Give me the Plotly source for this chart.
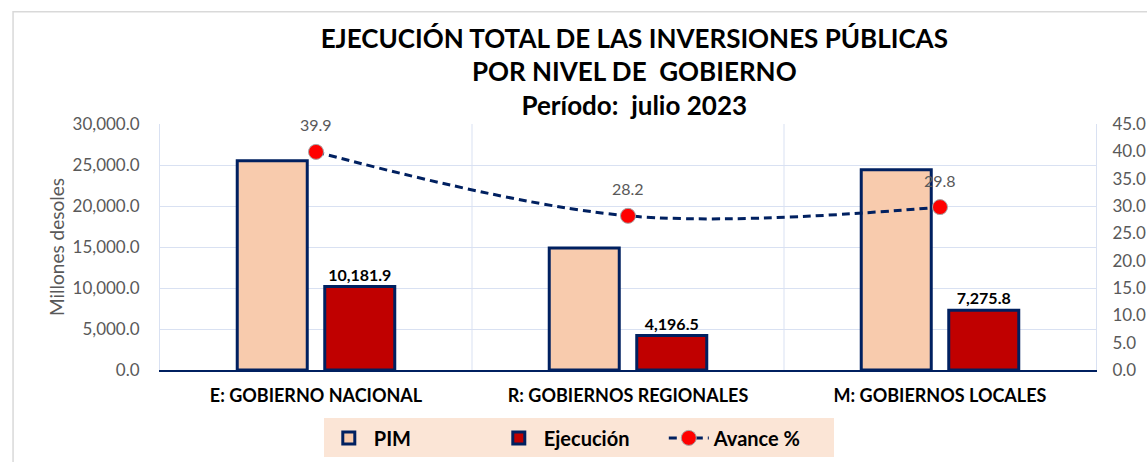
import plotly.graph_objects as go

categories = ["E: GOBIERNO NACIONAL", "R: GOBIERNOS REGIONALES", "M: GOBIERNOS LOCALES"]
pim = [25520, 14880, 24420]
ejecucion = [10181.9, 4196.5, 7275.8]
avance = [39.9, 28.2, 29.8]

FONT = "Lato"
NAVY = "#002060"
GRID = "#D9E1F2"

fig = go.Figure()
fig.add_trace(go.Bar(
    x=categories, y=pim, name="PIM",
    marker=dict(color="#F8CBAD", line=dict(color=NAVY, width=3)),
    yaxis="y",
))
fig.add_trace(go.Bar(
    x=categories, y=ejecucion, name="Ejecución",
    marker=dict(color="#C00000", line=dict(color=NAVY, width=3)),
    text=[f"{v:,.1f}" for v in ejecucion], textposition="outside",
    textfont=dict(family=FONT, size=16, color="#000000", weight="bold"),
    cliponaxis=False,
    yaxis="y",
))
fig.add_trace(go.Scatter(
    x=categories, y=avance, name="Avance %", yaxis="y2",
    mode="lines+markers",
    line=dict(color=NAVY, width=3, dash="8px,5px", shape="spline", smoothing=1.0),
    marker=dict(color="#FF0000", size=15, line=dict(color="#A6A6A6", width=1)),
))

for c, v in zip(categories, avance):
    fig.add_annotation(x=c, y=v, yref="y2", text=f"{v:.1f}", showarrow=False,
                       yshift=27, font=dict(family=FONT, size=16, color="#595959"))

# category separators (vertical gridlines)
for i in range(len(categories) - 1):
    fig.add_shape(type="line", xref="x", yref="paper", x0=i + 0.5, x1=i + 0.5,
                  y0=0, y1=1, line=dict(color=GRID, width=1), layer="below")

# outer chart border
fig.add_shape(type="rect", xref="paper", yref="paper", x0=-0.157, x1=1.2,
              y0=-0.5, y1=1.456, line=dict(color="#D9D9D9", width=1.5))

fig.update_layout(
    width=1147, height=462,
    margin=dict(l=160, r=51, t=123.5, b=92, autoexpand=False),
    paper_bgcolor="white", plot_bgcolor="white",
    barmode="group", bargap=0.439, bargroupgap=0.2,
    font=dict(family=FONT, color="#595959"),
    title=dict(
        text="EJECUCIÓN TOTAL DE LAS INVERSIONES PÚBLICAS<br>POR NIVEL DE  GOBIERNO<br>Período:  julio 2023",
        x=0.553, xanchor="center", y=0.897, yanchor="top",
        font=dict(family=FONT, size=26, color="#000000", weight="bold"),
    ),
    xaxis=dict(
        showgrid=False, showline=True, linecolor=NAVY, linewidth=2,
        tickfont=dict(family=FONT, size=18, color="#000000", weight="bold"),
        ticks="", ticklabelstandoff=8,
    ),
    yaxis=dict(
        range=[0, 30000], dtick=5000, tickformat=",.1f",
        showgrid=True, gridcolor=GRID, gridwidth=1,
        showline=True, linecolor=GRID, zeroline=False,
        tickfont=dict(family=FONT, size=17, color="#595959"),
        ticklabelstandoff=16,
        title=dict(text="Millones desoles", font=dict(family=FONT, size=19, color="#595959"), standoff=2),
    ),
    yaxis2=dict(
        range=[0, 45], dtick=5, tickformat=".1f", overlaying="y", side="right",
        showgrid=False, showline=True, linecolor=GRID, zeroline=False,
        tickfont=dict(family=FONT, size=17, color="#595959"),
        ticklabelstandoff=12,
    ),
    legend=dict(
        orientation="h", x=0.175, xanchor="left", y=-0.276, yanchor="middle",
        bgcolor="#FBE5D6",
        font=dict(family=FONT, size=20, color="#000000", weight="bold"),
        itemwidth=40, entrywidth=115, entrywidthmode="pixels",
    ),
    showlegend=True,
)

fig.write_html("out.html", config={"displayModeBar": False},
               post_script="document.body.style.margin='0px';")
